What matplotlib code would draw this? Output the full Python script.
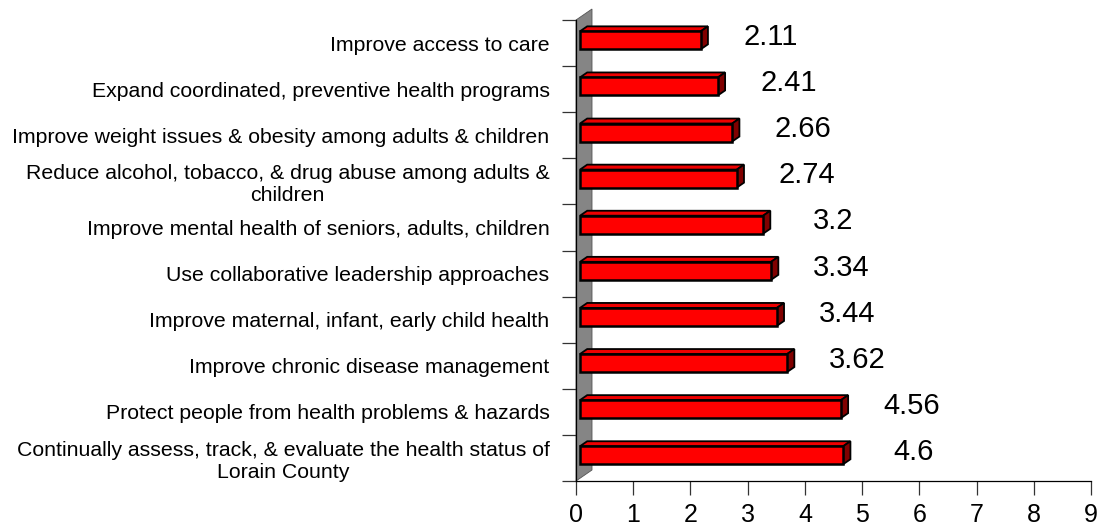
import matplotlib
matplotlib.use("Agg")
import matplotlib.pyplot as plt
from matplotlib.patches import Polygon

plt.rcParams['font.family'] = ['Liberation Sans', 'DejaVu Sans']

# data, top to bottom as in the chart
categories = [
    "Improve access to care",
    "Expand coordinated, preventive health programs",
    "Improve weight issues & obesity among adults & children",
    "Reduce alcohol, tobacco, & drug abuse among adults &\nchildren",
    "Improve mental health of seniors, adults, children",
    "Use collaborative leadership approaches",
    "Improve maternal, infant, early child health",
    "Improve chronic disease management",
    "Protect people from health problems & hazards",
    "Continually assess, track, & evaluate the health status of\nLorain County",
]
scores = [2.11, 2.41, 2.66, 2.74, 3.2, 3.34, 3.44, 3.62, 4.56, 4.6]
x_ticks = list(range(0, 10))

W, H = 1102, 527
fig = plt.figure(figsize=(W / 100, H / 100), dpi=100)
left, right, top, bottom = 576, 1091, 20, 481
ax = fig.add_axes([left / W, 1 - bottom / H, (right - left) / W, (bottom - top) / H])

n = len(categories)
ax.set_xlim(0, 9)
ax.set_ylim(n, 0)

# pixels per data unit, used for the fake 3d depth
ppx = (right - left) / 9
ppy = (bottom - top) / n
depth_px = (16, 11)


def shift(d):
    return depth_px[0] * d / ppx, -depth_px[1] * d / ppy


# side wall
wx, wy = shift(1.0)
wall = Polygon([(0, n), (0, 0), (wx, wy), (wx, n + wy)], closed=True,
               facecolor='#858585', edgecolor='#555555', linewidth=0.6,
               zorder=1, clip_on=False)
ax.add_patch(wall)

bar_h = 18 / ppy
fx, fy = shift(0.25)
bx, by = shift(0.7)
for i, v in enumerate(scores):
    c = i + 0.5
    x0f, x1f = fx, v + fx
    y0f, y1f = c - bar_h / 2 + fy, c + bar_h / 2 + fy
    x0b, x1b = bx, v + bx
    y0b, y1b = c - bar_h / 2 + by, c + bar_h / 2 + by
    topface = Polygon([(x0f, y0f), (x1f, y0f), (x1b, y0b), (x0b, y0b)],
                      facecolor='#ee0000', edgecolor='black', linewidth=1.3,
                      joinstyle='miter', zorder=3, clip_on=False)
    side = Polygon([(x1f, y0f), (x1b, y0b), (x1b, y1b), (x1f, y1f)],
                   facecolor='#800000', edgecolor='black', linewidth=1.3,
                   joinstyle='miter', zorder=3, clip_on=False)
    front = Polygon([(x0f, y0f), (x1f, y0f), (x1f, y1f), (x0f, y1f)],
                    facecolor='#ff0000', edgecolor='black', linewidth=1.8,
                    joinstyle='miter', zorder=4, clip_on=False)
    ax.add_patch(topface)
    ax.add_patch(side)
    ax.add_patch(front)
    ax.text(v + 1.3, c - 6 / ppy, f"{v:g}", ha='center', va='center',
            fontsize=21, color='black', zorder=5)

# axes styling
for s in ['top', 'right']:
    ax.spines[s].set_visible(False)
for s in ['left', 'bottom']:
    ax.spines[s].set_color('black')
    ax.spines[s].set_linewidth(0.9)
    ax.spines[s].set_zorder(2)

ax.set_xticks(x_ticks)
ax.set_xticklabels([str(t) for t in x_ticks], fontsize=18)
ax.tick_params(axis='x', length=10, width=0.9, color='#333333', pad=6)

ax.set_yticks(range(0, n + 1))
ax.set_yticklabels([])
ax.tick_params(axis='y', which='major', length=10, width=0.9, color='#333333')
ax.set_yticks([i + 0.5 for i in range(n)], minor=True)
ax.set_yticklabels(categories, minor=True, fontsize=15.3, multialignment='center')
ax.tick_params(axis='y', which='minor', length=0, pad=19)

ax.patch.set_visible(False)
fig.savefig("out.png", dpi=100)
